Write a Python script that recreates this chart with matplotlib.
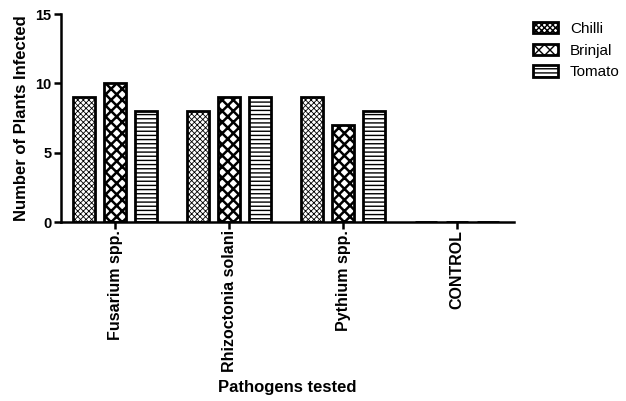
import matplotlib
matplotlib.use("Agg")
import matplotlib.pyplot as plt
import matplotlib.patches as mpatches
import numpy as np

plt.rcParams['font.family'] = ['Liberation Sans', 'DejaVu Sans']

pathogens = ["Fusarium spp.", "Rhizoctonia solani", "Pythium spp.", "CONTROL"]
series = ["Chilli", "Brinjal", "Tomato"]
chilli = [9, 8, 9, 0]
brinjal = [10, 9, 7, 0]
tomato = [8, 9, 8, 0]
y_ticks = [0, 5, 10, 15]

hatches = ['xxxxxx', 'xxx', '----']
hatch_lw = [0.6, 1.8, 1.0]

fig = plt.figure(figsize=(6.26, 4.01), dpi=100)
ax = fig.add_axes([61 / 626, 1 - 222 / 401, (514 - 61) / 626, (222 - 14) / 401])

x = np.arange(len(pathogens))
width = 0.19
offset = 0.272
for i, (name, vals) in enumerate(zip(series, [chilli, brinjal, tomato])):
    with plt.rc_context({'hatch.linewidth': hatch_lw[i]}):
        ax.bar(x + (i - 1) * offset, vals, width, color='white', edgecolor='black',
               linewidth=2, hatch=hatches[i], label=name, zorder=1)

ax.set_xlim(-0.474, 3.5)
ax.set_ylim(0, 15)
ax.set_yticks(y_ticks)
ax.set_xticks(x)
ax.set_xticklabels(pathogens, rotation=90, fontweight='bold', fontsize=11.5)
for lbl in ax.get_yticklabels():
    lbl.set_fontweight('bold')
    lbl.set_fontsize(10.5)

for s in ['top', 'right']:
    ax.spines[s].set_visible(False)
for s in ['left', 'bottom']:
    ax.spines[s].set_linewidth(1.8)
    ax.spines[s].set_zorder(5)
ax.tick_params(axis='both', width=1.8, length=5, direction='out', pad=2)
ax.tick_params(axis='x', pad=0.5)

ax.set_ylabel("Number of Plants Infected", fontweight='bold', fontsize=12, labelpad=4)
ax.set_xlabel("Pathogens tested", fontweight='bold', fontsize=12, labelpad=6)

handles = []
for i in range(3):
    with plt.rc_context({'hatch.linewidth': hatch_lw[i]}):
        handles.append(mpatches.Patch(facecolor='white', edgecolor='black', linewidth=2,
                                      hatch=hatches[i], label=series[i]))
fig.legend(handles=handles, loc='upper left', bbox_to_anchor=(519 / 626, 1 - 8 / 401),
           frameon=False, fontsize=11, handlelength=1.65, handleheight=0.8,
           labelspacing=0.5, handletextpad=0.78)

fig.savefig("out.png", dpi=100)
